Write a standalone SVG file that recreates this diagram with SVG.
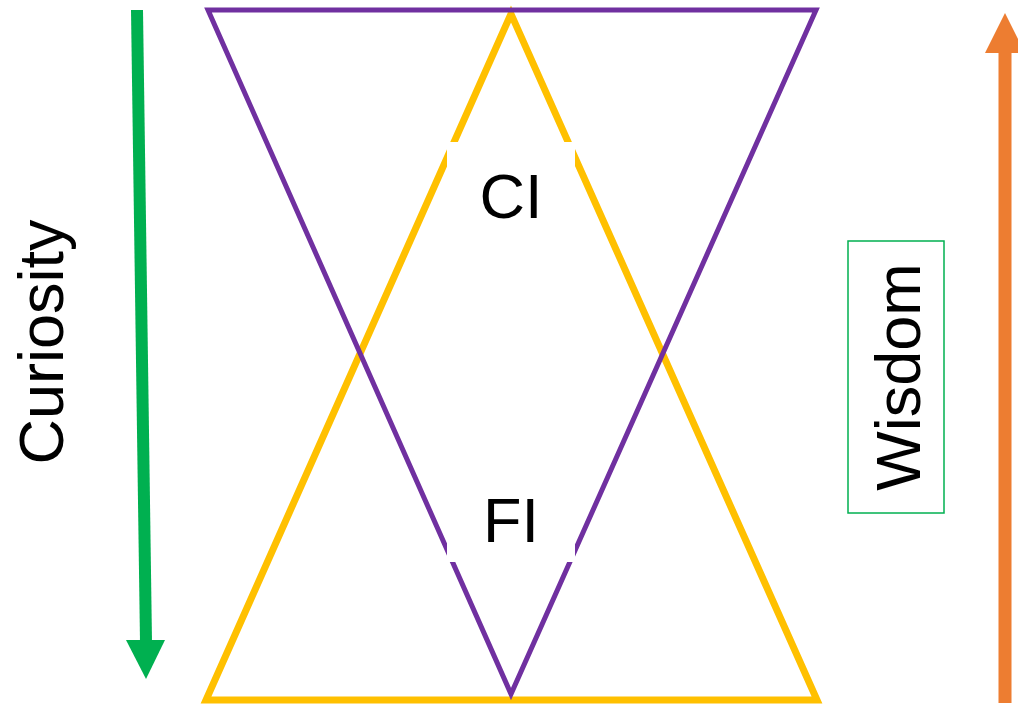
<svg xmlns="http://www.w3.org/2000/svg" width="1018" height="707" viewBox="0 0 1018 707">
<style>
.lbl{font-family:"Liberation Sans",Arial,sans-serif;font-size:63px;fill:#000}
.tri{fill:none;stroke-linejoin:miter;stroke-miterlimit:10}
</style>
<rect width="1018" height="707" fill="#fff"/>
<g id="triangle-up"><polygon class="tri" points="511,14 206,700 817,700" stroke="#FFC000" stroke-width="7"/></g>
<g id="triangle-down"><polygon class="tri" points="208,10 816,10 511,694" stroke="#7030A0" stroke-width="5"/></g>
<g id="CI"><rect x="447" y="142" width="128" height="110" fill="#fff"/><text class="lbl" x="511" y="218" text-anchor="middle">CI</text></g>
<g id="FI"><rect x="447" y="470" width="128" height="92" fill="#fff"/><text class="lbl" x="511" y="542" text-anchor="middle">FI</text></g>
<g id="curiosity"><text class="lbl" transform="translate(63,342) rotate(-90)" text-anchor="middle">Curiosity</text></g>
<g id="wisdom"><rect x="848" y="241" width="96" height="272" fill="#fff" stroke="#00B050" stroke-width="1.5"/><text class="lbl" transform="translate(920,377) rotate(-90)" text-anchor="middle">Wisdom</text></g>
<g id="connectors">
<line x1="137" y1="10" x2="146" y2="642" stroke="#00B050" stroke-width="12"/>
<polygon points="126,640 165,640 146,679" fill="#00B050"/>
<line x1="1005" y1="703" x2="1005" y2="50" stroke="#ED7D31" stroke-width="13"/>
<polygon points="985,53 1025,53 1005,13" fill="#ED7D31"/>
</g>
</svg>
